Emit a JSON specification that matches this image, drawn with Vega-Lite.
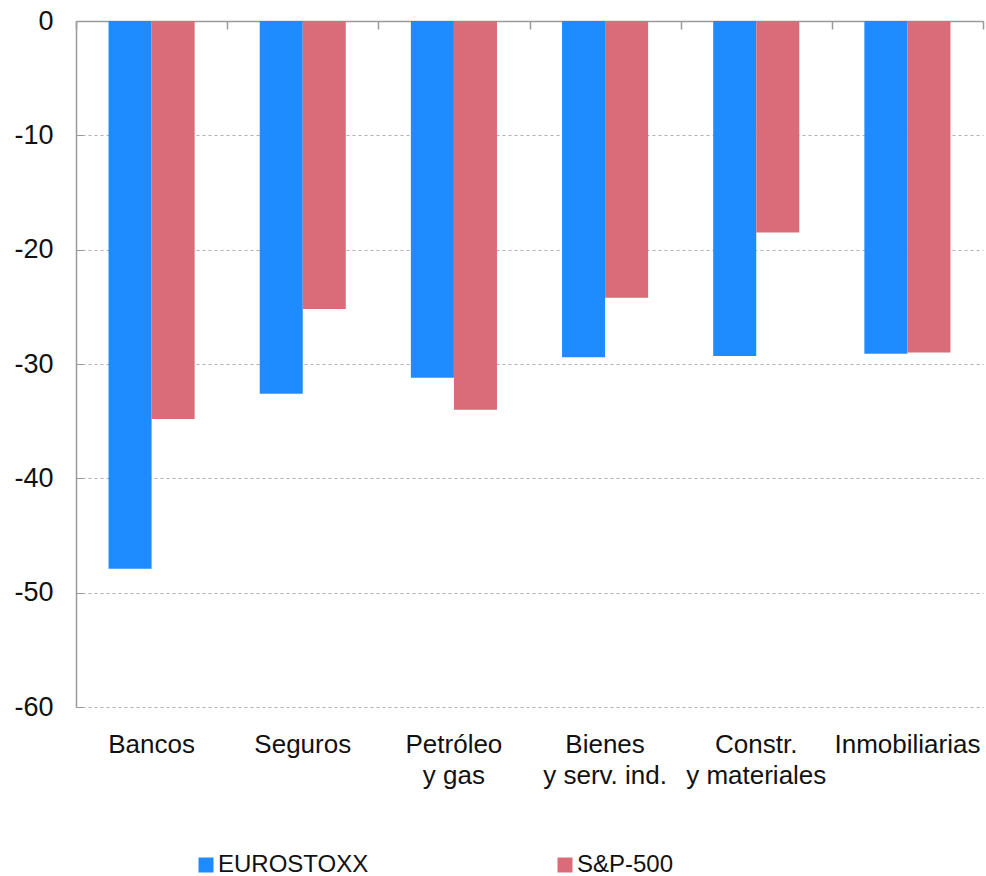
{
  "$schema": "https://vega.github.io/schema/vega-lite/v6.json",
  "width": 907,
  "height": 686,
  "autosize": {"type": "none"},
  "padding": {"left": 76, "top": 21, "right": 3, "bottom": 169},
  "config": {
    "font": "Liberation Sans",
    "view": {"stroke": null},
    "axis": {"labelColor": "#111111"}
  },
  "data": {
    "values": [
      {"sector": "Bancos", "serie": "EUROSTOXX", "value": -47.9},
      {"sector": "Bancos", "serie": "S&P-500", "value": -34.8},
      {"sector": "Seguros", "serie": "EUROSTOXX", "value": -32.6},
      {"sector": "Seguros", "serie": "S&P-500", "value": -25.2},
      {"sector": "Petróleo|y gas", "serie": "EUROSTOXX", "value": -31.2},
      {"sector": "Petróleo|y gas", "serie": "S&P-500", "value": -34.0},
      {"sector": "Bienes|y serv. ind.", "serie": "EUROSTOXX", "value": -29.4},
      {"sector": "Bienes|y serv. ind.", "serie": "S&P-500", "value": -24.2},
      {"sector": "Constr.|y materiales", "serie": "EUROSTOXX", "value": -29.3},
      {"sector": "Constr.|y materiales", "serie": "S&P-500", "value": -18.5},
      {"sector": "Inmobiliarias", "serie": "EUROSTOXX", "value": -29.1},
      {"sector": "Inmobiliarias", "serie": "S&P-500", "value": -29.0}
    ]
  },
  "resolve": {"axis": {"x": "independent"}},
  "layer": [
    {
      "mark": {"type": "bar"},
      "encoding": {
        "x": {
          "field": "sector",
          "type": "nominal",
          "sort": null,
          "scale": {"paddingInner": 0, "paddingOuter": 0},
          "axis": {
            "orient": "top",
            "title": null,
            "labels": false,
            "domain": true,
            "domainColor": "#9a9a9a",
            "domainWidth": 1.5,
            "ticks": true,
            "tickBand": "extent",
            "tickColor": "#9a9a9a",
            "tickSize": -8,
            "tickWidth": 1.5,
            "grid": false
          }
        },
        "y": {
          "field": "value",
          "type": "quantitative",
          "scale": {"domain": [-60, 0], "nice": false},
          "axis": {
            "title": null,
            "values": [0, -10, -20, -30, -40, -50, -60],
            "labelExpr": "toString(datum.value)",
            "grid": true,
            "gridDash": [3, 3],
            "gridColor": "#b0b0b0",
            "domainColor": "#9a9a9a",
            "domainWidth": 1.5,
            "tickColor": "#9a9a9a",
            "tickSize": -7,
            "labelFontSize": 27,
            "labelPadding": 30
          }
        },
        "xOffset": {
          "field": "serie",
          "type": "nominal",
          "scale": {"paddingInner": 0, "paddingOuter": 0.756}
        },
        "color": {
          "field": "serie",
          "type": "nominal",
          "scale": {"domain": ["EUROSTOXX", "S&P-500"], "range": ["#1e8cff", "#da6b79"]},
          "legend": {
            "title": null,
            "orient": "none",
            "legendX": 118,
            "legendY": 832,
            "direction": "horizontal",
            "columns": 2,
            "columnPadding": 184,
            "symbolType": "square",
            "symbolSize": 225,
            "symbolStrokeWidth": 0,
            "symbolOpacity": 1,
            "labelFontSize": 24,
            "labelOffset": 0,
            "labelColor": "#111111"
          }
        }
      }
    },
    {
      "mark": {"type": "bar", "opacity": 0},
      "encoding": {
        "x": {
          "field": "sector",
          "type": "nominal",
          "sort": null,
          "axis": {
            "orient": "bottom",
            "title": null,
            "domain": false,
            "ticks": false,
            "grid": false,
            "labelAngle": 0,
            "labelFontSize": 26,
            "labelExpr": "split(datum.label, '|')",
            "labelPadding": 24,
            "labelLineHeight": 31,
            "labelBaseline": "top",
            "labelLimit": 300
          }
        },
        "y": {"field": "value", "type": "quantitative"}
      }
    }
  ]
}
